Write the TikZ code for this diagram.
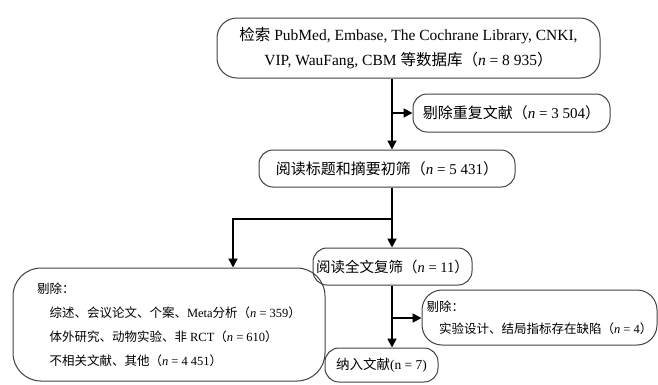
\documentclass[tikz,border=0pt]{standalone}
\usepackage{fontspec}
\setmainfont{Liberation Serif}
\newfontfamily\cjk{Noto Sans CJK SC}
\newcommand{\zh}[1]{{\cjk #1}}
\usetikzlibrary{arrows.meta}

\begin{document}
\begin{tikzpicture}[x=1pt, y=-1pt,
    stage/.style={draw=black!75, line width=1pt, rounded corners=14pt, inner sep=0pt, align=center,
        font=\fontsize{15}{25}\selectfont},
    flow/.style={line width=1.8pt, -{Triangle[length=9pt, width=9pt]}}]
    \useasboundingbox (0,0) rectangle (658,384);

    % Search box
    \node[stage, rounded corners=20pt, minimum width=383pt, minimum height=60pt,
        font=\fontsize{15.5}{25}\selectfont] (search) at (408.5,48)
        {\zh{检索} PubMed, Embase, The Cochrane Library, CNKI,\\
         VIP, WauFang, CBM \zh{等数据库（}\textit{n} = 8 935\zh{）}};

    % Duplicates removed
    \node[stage, minimum width=197pt, minimum height=38pt] (dup) at (511.5,113)
        {\zh{剔除重复文献（}\textit{n} = 3 504\zh{）}};

    % Title and abstract screening
    \node[stage, minimum width=256pt, minimum height=37pt] (title) at (387,168.5)
        {\zh{阅读标题和摘要初筛（}\textit{n} = 5 431\zh{）}};

    % Full text screening
    \node[stage, minimum width=159pt, minimum height=37pt, font=\fontsize{14.5}{25}\selectfont] (fulltext) at (392.5,266.5)
        {\zh{阅读全文复筛（}\textit{n} = 11\zh{）}};

    % Excluded after screening
    \node[stage, rounded corners=28pt, minimum width=312pt, minimum height=113pt, align=left,
        font=\fontsize{12.5}{24}\selectfont] (excl1) at (169,324.5)
        {\zh{剔除：}\\
         \quad\zh{综述、会议论文、个案、}Meta\zh{分析（}\textit{n} = 359\zh{）}\\
         \quad\zh{体外研究、动物实验、非} RCT\zh{（}\textit{n} = 610\zh{）}\\
         \quad\zh{不相关文献、其他（}\textit{n} = 4 451\zh{）}};

    % Excluded after full text
    \node[stage, rounded corners=20pt, minimum width=235pt, minimum height=55pt, align=left,
        font=\fontsize{12.5}{22}\selectfont] (excl2) at (539.5,317.5)
        {\zh{剔除：}\\
         \quad\zh{实验设计、结局指标存在缺陷（}\textit{n} = 4\zh{）}};

    % Included studies
    \node[stage, minimum width=113pt, minimum height=34pt, font=\fontsize{13.5}{20}\selectfont] (incl) at (381.5,365)
        {\zh{纳入文献}(n = 7)};

    % Spine and branch points
    \coordinate (spine) at (392,0);
    \coordinate (b1) at (392,113);
    \coordinate (b2) at (392,219);
    \coordinate (k2) at (233,219);
    \coordinate (b3) at (392,318);

    % Arrows
    \draw[flow] (search.south -| spine) -- (title.north -| spine);
    \draw[flow] (b1) -- (dup.west);
    \draw[flow] (title.south -| spine) -- (fulltext.north -| spine);
    \draw[flow] (b2) -- (k2) -- (k2 |- excl1.north);
    \draw[flow] (fulltext.south -| spine) -- (incl.north -| spine);
    \draw[flow] (b3) -- (excl2.west |- b3);

\end{tikzpicture}
\end{document}
